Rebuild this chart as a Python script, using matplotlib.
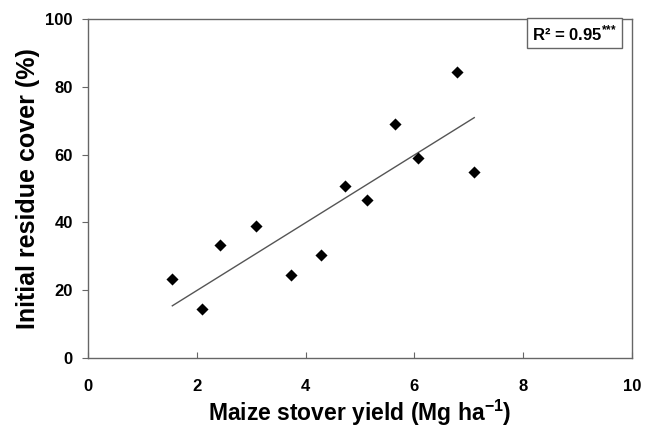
import matplotlib
matplotlib.use("Agg")
import matplotlib.pyplot as plt
import numpy as np

plt.rcParams['font.family'] = ['Liberation Sans', 'DejaVu Sans']
plt.rcParams['mathtext.fontset'] = 'custom'
plt.rcParams['mathtext.rm'] = 'Liberation Sans:bold'
plt.rcParams['mathtext.bf'] = 'Liberation Sans:bold'
plt.rcParams['mathtext.it'] = 'Liberation Sans:bold'

stover_yield = [1.55, 2.10, 2.43, 3.08, 3.74, 4.28, 4.72, 5.12, 5.65, 6.06, 6.78, 7.10]
residue_cover = [23.3, 14.5, 33.2, 38.8, 24.4, 30.5, 50.6, 46.6, 68.9, 58.9, 84.5, 55.0]
fit_slope = 10.0
fit_intercept = -0.1
x_ticks = [0, 2, 4, 6, 8, 10]
y_ticks = [0, 20, 40, 60, 80, 100]

fig = plt.figure(figsize=(6.51, 4.28), dpi=100)
ax = fig.add_axes([88/651, 1-358/428, (632-88)/651, (358-19)/428])

ax.scatter(stover_yield, residue_cover, marker='D', s=38, color='black', zorder=3, linewidths=0)
xf = np.array([min(stover_yield), max(stover_yield)])
ax.plot(xf, fit_slope*xf + fit_intercept, color='#555555', lw=1.0)

ax.set_xlim(0, 10)
ax.set_ylim(0, 100)
ax.set_xticks(x_ticks)
ax.set_yticks(y_ticks)
ax.tick_params(axis='x', direction='in', length=4, width=0.8, color='#666666', pad=15, labelsize=12)
ax.tick_params(axis='y', direction='out', length=4, width=0.8, color='#666666', pad=7, labelsize=12)
ax.tick_params(top=False, right=False)
for lab in ax.get_xticklabels() + ax.get_yticklabels():
    lab.set_fontweight('bold')
for sp in ax.spines.values():
    sp.set_color('#666666')
    sp.set_linewidth(1.0)

ax.set_xlabel("Maize stover yield (Mg ha$^{{-}1}$)", fontsize=16.5, fontweight='bold', va='top')
ax.xaxis.set_label_coords(0.5, -0.118)
ax.set_ylabel("Initial residue cover (%)", fontsize=18, fontweight='bold', labelpad=4)

ax.text(0.972, 0.988, "R\u00b2 = 0.95$^{{*}{*}{*}}$", transform=ax.transAxes, ha='right', va='top',
        fontsize=12, fontweight='bold',
        bbox=dict(boxstyle='square,pad=0.3', fc='white', ec='#666666', lw=1.0))

fig.savefig("out.png", dpi=100)
